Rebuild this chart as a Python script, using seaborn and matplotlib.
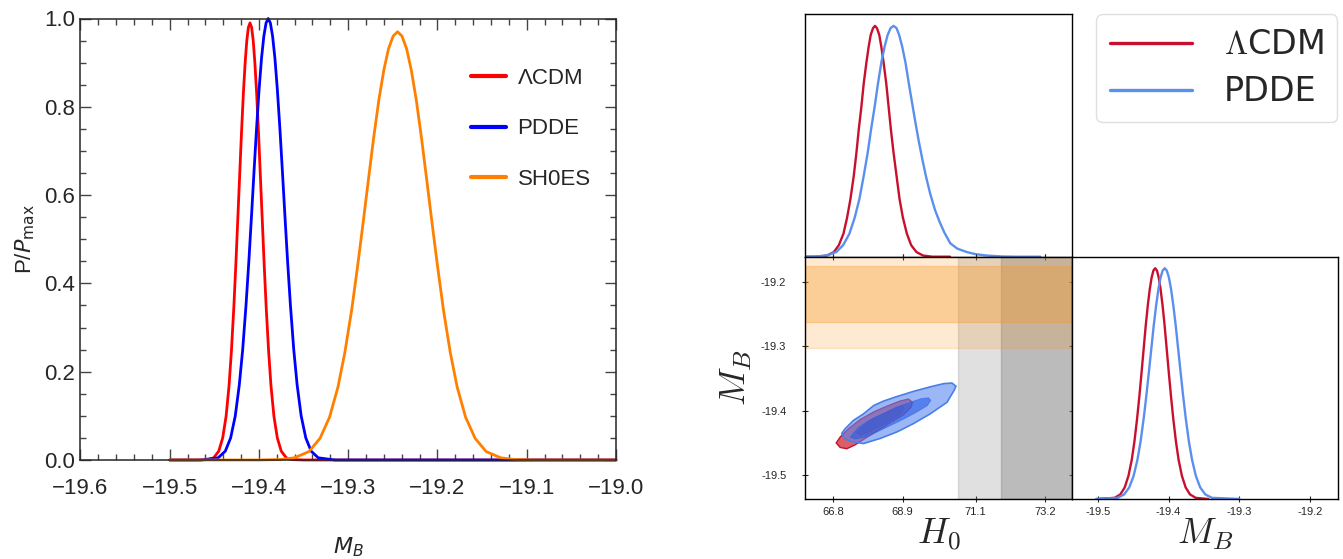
import matplotlib
matplotlib.use("Agg")
import matplotlib.pyplot as plt
from matplotlib.ticker import MultipleLocator
import seaborn as sns

sns.set_style("ticks")
plt.rcParams["font.family"] = ["Liberation Sans", "DejaVu Sans"]

# ---- left panel: normalised M_B posteriors ----
mb_lcdm_x = [-19.50, -19.47, -19.4565, -19.4507, -19.4450, -19.4406, -19.4368, -19.4335, -19.4308,
             -19.4281, -19.4258, -19.4237, -19.4216, -19.4195, -19.4174, -19.4154, -19.4136,
             -19.4118, -19.4100, -19.4082, -19.4064, -19.4046, -19.4026, -19.4005, -19.3984,
             -19.3963, -19.3942, -19.3919, -19.3892, -19.3865, -19.3832, -19.3794, -19.3750,
             -19.3693, -19.3635, -19.35, -19.00]
mb_lcdm_p = [0, 0, 0.001, 0.005, 0.020, 0.050, 0.099, 0.168, 0.248,
             0.347, 0.446, 0.545, 0.644, 0.743, 0.832, 0.901, 0.950,
             0.980, 0.990, 0.980, 0.950, 0.901, 0.832, 0.743, 0.644,
             0.545, 0.446, 0.347, 0.248, 0.168, 0.099, 0.050, 0.020,
             0.005, 0.001, 0, 0]
mb_pdde_x = [-19.50, -19.465, -19.4456, -19.4377, -19.4317, -19.4265, -19.4220, -19.4182, -19.4145,
             -19.4113, -19.4084, -19.4056, -19.4027, -19.3998, -19.3971, -19.3945, -19.3920,
             -19.3896, -19.3872, -19.3847, -19.3821, -19.3794, -19.3765, -19.3736, -19.3708,
             -19.3679, -19.3647, -19.3610, -19.3572, -19.3527, -19.3475, -19.3415, -19.3336,
             -19.315, -19.00]
mb_pdde_p = [0, 0, 0.005, 0.02, 0.05, 0.10, 0.17, 0.25, 0.35,
             0.45, 0.55, 0.65, 0.75, 0.84, 0.91, 0.96, 0.99,
             1.0, 0.99, 0.96, 0.91, 0.84, 0.75, 0.65, 0.55,
             0.45, 0.35, 0.25, 0.17, 0.10, 0.05, 0.02, 0.005,
             0, 0]
mb_shoes_x = [-19.50, -19.40, -19.377, -19.3603, -19.3440, -19.3316, -19.3209, -19.3115, -19.3038,
              -19.2961, -19.2896, -19.2835, -19.2776, -19.2716, -19.2657, -19.2601, -19.2549,
              -19.2497, -19.2447, -19.2397, -19.2345, -19.2293, -19.2237, -19.2178, -19.2118,
              -19.2059, -19.1998, -19.1933, -19.1856, -19.1779, -19.1685, -19.1578, -19.1454,
              -19.1291, -19.113, -19.09, -19.00]
mb_shoes_p = [0, 0, 0.001, 0.005, 0.019, 0.049, 0.097, 0.165, 0.243,
              0.340, 0.437, 0.534, 0.631, 0.728, 0.815, 0.883, 0.931,
              0.960, 0.970, 0.960, 0.931, 0.883, 0.815, 0.728, 0.631,
              0.534, 0.437, 0.340, 0.243, 0.165, 0.097, 0.049, 0.019,
              0.005, 0.001, 0, 0]
left_labels = ["ΛCDM", "PDDE", "SH0ES"]
left_colors = ["#FF0000", "#0000FF", "#FF8000"]
left_xticks = [-19.6, -19.5, -19.4, -19.3, -19.2, -19.1, -19.0]
left_xticklabels = ["−19.6", "−19.5", "−19.4", "−19.3", "−19.2", "−19.1", "−19.0"]
left_yticks = [0.0, 0.2, 0.4, 0.6, 0.8, 1.0]
left_yticklabels = ["0.0", "0.2", "0.4", "0.6", "0.8", "1.0"]

# ---- right triangle plot: 1D marginals ----
h0_grid_lcdm = [65.96, 66.30, 66.62, 66.83, 66.98, 67.12, 67.23, 67.33, 67.43, 67.51, 67.58, 67.66,
                67.73, 67.81, 67.88, 67.94, 68.01, 68.07, 68.13, 68.20, 68.26, 68.33, 68.41, 68.48,
                68.55, 68.63, 68.72, 68.81, 68.91, 69.03, 69.16, 69.32, 69.52, 69.80, 70.33]
h0_p_lcdm = [0, 0, 0.005, 0.02, 0.05, 0.10, 0.17, 0.25, 0.35, 0.45, 0.55, 0.65,
             0.75, 0.84, 0.91, 0.96, 0.99, 1.0, 0.99, 0.96, 0.91, 0.84, 0.75, 0.65,
             0.55, 0.45, 0.35, 0.25, 0.17, 0.10, 0.05, 0.02, 0.005, 0, 0]
h0_grid_pdde = [65.96, 66.20, 66.61, 66.90, 67.11, 67.30, 67.46, 67.60, 67.73, 67.85, 67.95, 68.06,
                68.16, 68.26, 68.36, 68.45, 68.54, 68.63, 68.72, 68.80, 68.89, 68.99, 69.09, 69.19,
                69.29, 69.39, 69.50, 69.61, 69.73, 69.88, 70.02, 70.16, 70.34, 70.55, 70.84, 71.10,
                71.44, 71.90, 72.30, 73.05]
h0_p_pdde = [0, 0, 0.005, 0.02, 0.05, 0.10, 0.17, 0.25, 0.35, 0.45, 0.55, 0.65,
             0.75, 0.84, 0.91, 0.96, 0.99, 1.0, 0.99, 0.96, 0.91, 0.84, 0.75, 0.665,
             0.58, 0.50, 0.42, 0.346, 0.275, 0.202, 0.15, 0.105, 0.058, 0.035, 0.02, 0.011,
             0.005, 0.001, 0, 0]

mb_grid_lcdm = [-19.502, -19.4763, -19.4682, -19.4621, -19.4568, -19.4521, -19.4483, -19.4445,
                -19.4412, -19.4382, -19.4353, -19.4324, -19.4294, -19.4266, -19.4240, -19.4215,
                -19.4190, -19.4165, -19.4140, -19.4114, -19.4086, -19.4056, -19.4027, -19.3998,
                -19.3968, -19.3935, -19.3897, -19.3859, -19.3812, -19.3759, -19.3698, -19.3617,
                -19.344]
mb_grid_pdde = [-19.502, -19.4722, -19.4628, -19.4557, -19.4495, -19.4441, -19.4396, -19.4352,
                -19.4314, -19.4279, -19.4245, -19.4211, -19.4176, -19.4144, -19.4114, -19.4084,
                -19.4055, -19.4026, -19.3996, -19.3966, -19.3934, -19.3899, -19.3865, -19.3831,
                -19.3796, -19.3758, -19.3714, -19.3669, -19.3615, -19.3553, -19.3482, -19.3388,
                -19.30]
mb_p_marg = [0, 0.005, 0.02, 0.05, 0.10, 0.17, 0.25, 0.35,
             0.45, 0.55, 0.65, 0.75, 0.84, 0.91, 0.96, 0.99,
             1.0, 0.99, 0.96, 0.91, 0.84, 0.75, 0.65, 0.55,
             0.45, 0.35, 0.25, 0.17, 0.10, 0.05, 0.02, 0.005,
             0]

# ---- contour outlines in the (H0, M_B) plane ----
lcdm_2s_h0 = [66.90, 67.02, 67.27, 67.62, 68.03, 68.43, 68.83, 69.08, 69.20, 69.15, 68.93,
              68.58, 68.18, 67.77, 67.47, 67.22, 67.02]
lcdm_2s_mb = [-19.450, -19.441, -19.428, -19.414, -19.402, -19.393, -19.385, -19.382, -19.387,
              -19.395, -19.406, -19.417, -19.430, -19.443, -19.453, -19.459, -19.457]
lcdm_1s_h0 = [67.52, 67.72, 68.03, 68.38, 68.73, 68.89, 68.95, 68.83, 68.53, 68.18, 67.82, 67.62]
lcdm_1s_mb = [-19.434, -19.424, -19.412, -19.404, -19.395, -19.393, -19.397, -19.405, -19.415,
              -19.425, -19.434, -19.438]
pdde_2s_h0 = [67.07, 67.17, 67.42, 67.72, 68.03, 68.33, 68.73, 69.23, 69.73, 70.14, 70.39, 70.51,
              70.46, 70.24, 69.73, 69.23, 68.73, 68.23, 67.72, 67.37, 67.14]
pdde_2s_mb = [-19.435, -19.428, -19.415, -19.405, -19.392, -19.385, -19.378, -19.370, -19.363,
              -19.358, -19.357, -19.362, -19.368, -19.387, -19.405, -19.420, -19.433, -19.443,
              -19.451, -19.448, -19.443]
pdde_1s_h0 = [67.32, 67.57, 67.92, 68.33, 68.73, 69.13, 69.48, 69.69, 69.75, 69.65, 69.33, 68.93,
              68.53, 68.13, 67.77, 67.47]
pdde_1s_mb = [-19.441, -19.426, -19.414, -19.404, -19.394, -19.387, -19.381, -19.380, -19.384,
              -19.392, -19.402, -19.413, -19.423, -19.433, -19.441, -19.444]

# SH0ES bands
h0_band_1s = (71.87, 74.47)
h0_band_2s = (70.57, 75.77)
mb_band_1s = (-19.262, -19.176)
mb_band_2s = (-19.303, -19.135)

h0_ticks = [66.8, 68.9, 71.1, 73.2]
h0_ticklabels = ["66.8", "68.9", "71.1", "73.2"]
mb_ticks = [-19.5, -19.4, -19.3, -19.2]
mb_ticklabels = ["-19.5", "-19.4", "-19.3", "-19.2"]
right_labels = [r"$\Lambda$CDM", "PDDE"]
c_lcdm = "#C8102E"
c_pdde = "#5B8FEF"

W, H = 1343, 559
fig = plt.figure(figsize=(W / 100, H / 100), dpi=100)


def box(x0, y0, x1, y1):
    return [x0 / W, 1 - y1 / H, (x1 - x0) / W, (y1 - y0) / H]


# ================= left panel =================
ax0 = fig.add_axes(box(80.4, 18.5, 616, 460))
for xs, ps, lab, col in zip([mb_lcdm_x, mb_pdde_x, mb_shoes_x],
                            [mb_lcdm_p, mb_pdde_p, mb_shoes_p], left_labels, left_colors):
    sns.lineplot(x=xs, y=ps, ax=ax0, color=col, lw=2.0, label=lab, clip_on=False)
ax0.set_xlim(-19.6, -19.0)
ax0.set_ylim(0, 1.0)
ax0.set_xticks(left_xticks)
ax0.set_xticklabels(left_xticklabels)
ax0.set_yticks(left_yticks)
ax0.set_yticklabels(left_yticklabels)
ax0.xaxis.set_minor_locator(MultipleLocator(0.02))
ax0.yaxis.set_minor_locator(MultipleLocator(0.05))
ax0.tick_params(which="both", direction="in", top=True, right=True, color="#444444", width=1)
ax0.tick_params(which="major", length=8, labelsize=16)
ax0.tick_params(which="minor", length=4.5)
ax0.tick_params(axis="x", which="major", pad=13)
ax0.tick_params(axis="y", which="major", pad=4)
for s in ax0.spines.values():
    s.set_linewidth(1.1)
ax0.set_xlabel(r"$M_B$", fontsize=16, labelpad=26, math_fontfamily="dejavusans")
ax0.set_ylabel(r"P/$P_{\rm max}$", fontsize=16, labelpad=5, math_fontfamily="dejavusans")
ax0.legend(loc="upper left", bbox_to_anchor=(0.729, 0.888), frameon=False, fontsize=16,
           handlelength=1.6, handletextpad=0.5, labelspacing=1.32, borderpad=0,
           borderaxespad=0)
for ln in ax0.get_legend().get_lines():
    ln.set_linewidth(3)

# ================= right triangle =================
axA = fig.add_axes(box(805, 14.3, 1071.7, 256.7))
axB = fig.add_axes(box(805, 256.7, 1071.7, 499))
axC = fig.add_axes(box(1071.7, 256.7, 1337.7, 499))
h0_lim = (65.96, 74.0)
mb_lim = (-19.537, -19.161)

sns.lineplot(x=h0_grid_lcdm, y=h0_p_lcdm, ax=axA, color=c_lcdm, lw=1.7, label=right_labels[0])
sns.lineplot(x=h0_grid_pdde, y=h0_p_pdde, ax=axA, color=c_pdde, lw=1.7, label=right_labels[1])
axA.get_legend().remove()
axA.set_xlim(*h0_lim)
axA.set_ylim(0, 1.05)
axA.set_xticks(h0_ticks)
axA.set_yticks([])
axA.tick_params(axis="x", direction="inout", length=5, labelbottom=False)

sns.lineplot(x=mb_grid_lcdm, y=mb_p_marg, ax=axC, color=c_lcdm, lw=1.7)
sns.lineplot(x=mb_grid_pdde, y=mb_p_marg, ax=axC, color=c_pdde, lw=1.7)
axC.set_xlim(*mb_lim)
axC.set_ylim(0, 1.05)
axC.set_xticks(mb_ticks)
axC.set_xticklabels(mb_ticklabels)
axC.set_yticks([])
axC.tick_params(axis="x", direction="inout", length=5, labelsize=8, pad=3)
axC.set_xlabel(r"$M_B$", fontsize=26, labelpad=0, math_fontfamily="cm")

# SH0ES bands
axB.axvspan(*h0_band_2s, color="#808080", alpha=0.24, zorder=1)
axB.axvspan(*h0_band_1s, color="#808080", alpha=0.375, zorder=1)
orange = (0.98, 0.59, 0.12)
axB.axhspan(*mb_band_2s, color=orange, alpha=0.2, zorder=2)
axB.axhspan(*mb_band_1s, color=orange, alpha=0.33, zorder=2)

# filled contours: ΛCDM first, PDDE translucent on top
axB.fill(lcdm_2s_h0, lcdm_2s_mb, facecolor="#DA5F69", edgecolor=c_lcdm, lw=1, zorder=3)
axB.fill(lcdm_1s_h0, lcdm_1s_mb, facecolor="#B4283A", edgecolor=c_lcdm, lw=0.8, zorder=3)
axB.fill(pdde_2s_h0, pdde_2s_mb, facecolor=(0.35, 0.53, 0.94, 0.6), edgecolor="#4A7FE8",
         lw=1.2, zorder=4)
axB.fill(pdde_1s_h0, pdde_1s_mb, facecolor=(0.16, 0.37, 0.90, 0.6),
         edgecolor=(0.16, 0.37, 0.9, 0.6), lw=0.6, zorder=4)
axB.set_xlim(*h0_lim)
axB.set_ylim(*mb_lim)
axB.set_xticks(h0_ticks)
axB.set_xticklabels(h0_ticklabels)
axB.set_yticks(mb_ticks)
axB.set_yticklabels(mb_ticklabels)
axB.tick_params(direction="inout", length=5, labelsize=8, right=True, top=True)
axB.tick_params(axis="y", pad=11)
axB.tick_params(axis="x", pad=3)
axB.set_xlabel(r"$H_0$", fontsize=26, labelpad=0, math_fontfamily="cm")
axB.set_ylabel(r"$M_B$", fontsize=26, labelpad=5, math_fontfamily="cm")

for a in (axA, axB, axC):
    for s in a.spines.values():
        s.set_linewidth(1)
        s.set_color("black")
        s.set_zorder(6)

leg = fig.legend(handles=axA.get_lines()[:2], labels=right_labels, loc="upper right",
                 bbox_to_anchor=(1337.4 / W, 1 - 14.3 / H), borderaxespad=0, fontsize=24,
                 handlelength=2.45, handletextpad=0.95, labelspacing=0.42, borderpad=0.42,
                 frameon=True, fancybox=True, edgecolor="#D8D8D8")
for t in leg.get_texts():
    t.set_family("DejaVu Sans")
    t.set_math_fontfamily("cm")
for ln in leg.get_lines():
    ln.set_linewidth(2.4)

fig.savefig("out.png", dpi=100)
